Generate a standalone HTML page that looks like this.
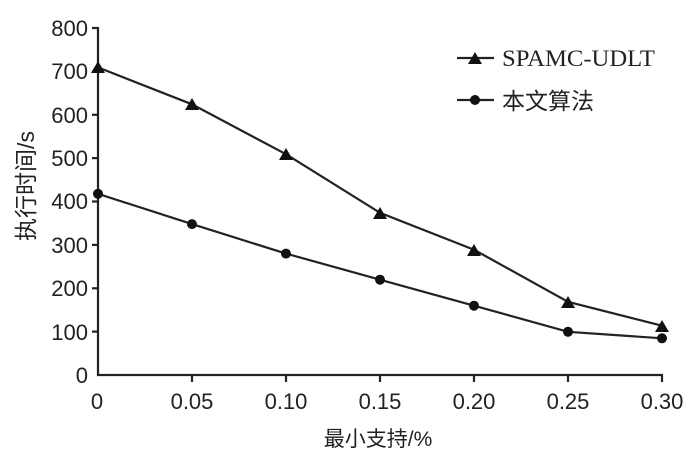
<!DOCTYPE html>
<html><head><meta charset="utf-8"><style>
html,body{margin:0;padding:0;background:#fff;}
svg text{font-family:"Liberation Sans","Noto Sans CJK SC",sans-serif;fill:#222;}
svg text.serif{font-family:"Liberation Serif",serif;}
</style></head><body>
<svg width="700" height="464" viewBox="0 0 700 464" xmlns="http://www.w3.org/2000/svg">
<g stroke="#222" stroke-width="2.2" fill="none">
<line x1="98" y1="27" x2="98" y2="376"/>
<line x1="97" y1="375" x2="663" y2="375"/>
<line x1="92" y1="28" x2="98" y2="28"/><line x1="92" y1="71.4" x2="98" y2="71.4"/>
<line x1="92" y1="114.8" x2="98" y2="114.8"/><line x1="92" y1="158.1" x2="98" y2="158.1"/>
<line x1="92" y1="201.5" x2="98" y2="201.5"/><line x1="92" y1="244.9" x2="98" y2="244.9"/>
<line x1="92" y1="288.3" x2="98" y2="288.3"/><line x1="92" y1="331.6" x2="98" y2="331.6"/>
<line x1="192" y1="375" x2="192" y2="382"/><line x1="286" y1="375" x2="286" y2="382"/>
<line x1="380" y1="375" x2="380" y2="382"/><line x1="474" y1="375" x2="474" y2="382"/>
<line x1="568" y1="375" x2="568" y2="382"/><line x1="662" y1="375" x2="662" y2="382"/>
<polyline points="98,67.4 192,104.3 286,154.2 380,212.8 474,249.7 568,301.8 662,325.7"/>
<polyline points="98,193.8 192,224.1 286,253.6 380,279.7 474,305.7 568,331.8 662,338.3"/>
<line x1="457" y1="58" x2="494" y2="58"/>
<line x1="457" y1="100" x2="494" y2="100"/>
</g>
<g fill="#111">
<polygon points="98,61 105,73 91,73"/><polygon points="192,98 199,110 185,110"/>
<polygon points="286,148 293,160 279,160"/><polygon points="380,207 387,219 373,219"/>
<polygon points="474,244 481,256 467,256"/><polygon points="568,296 575,308 561,308"/>
<polygon points="662,320 669,332 655,332"/><polygon points="475,52 482,64 468,64"/>
<circle cx="98" cy="193.8" r="5"/><circle cx="192" cy="224.1" r="5"/><circle cx="286" cy="253.6" r="5"/>
<circle cx="380" cy="279.7" r="5"/><circle cx="474" cy="305.7" r="5"/><circle cx="568" cy="331.8" r="5"/>
<circle cx="662" cy="338.3" r="5"/><circle cx="475" cy="100" r="5"/>
</g>
<g font-size="22" text-anchor="end">
<text x="88" y="36">800</text><text x="88" y="79">700</text><text x="88" y="123">600</text>
<text x="88" y="166">500</text><text x="88" y="209">400</text><text x="88" y="253">300</text>
<text x="88" y="296">200</text><text x="88" y="340">100</text><text x="88" y="383">0</text>
</g>
<g font-size="22" text-anchor="middle">
<text x="97" y="409">0</text><text x="192" y="409">0.05</text><text x="286" y="409">0.10</text>
<text x="380" y="409">0.15</text><text x="474" y="409">0.20</text><text x="568" y="409">0.25</text>
<text x="662" y="409">0.30</text>
<text x="378" y="446" font-size="21">最小支持/%</text>
</g>
<text font-size="23" text-anchor="middle" transform="translate(34,186) rotate(-90)">执行时间/s</text>
<text class="serif" x="502" y="66" font-size="23" textLength="153" lengthAdjust="spacingAndGlyphs">SPAMC-UDLT</text>
<text x="502" y="109" font-size="23">本文算法</text>
</svg>
</body></html>
